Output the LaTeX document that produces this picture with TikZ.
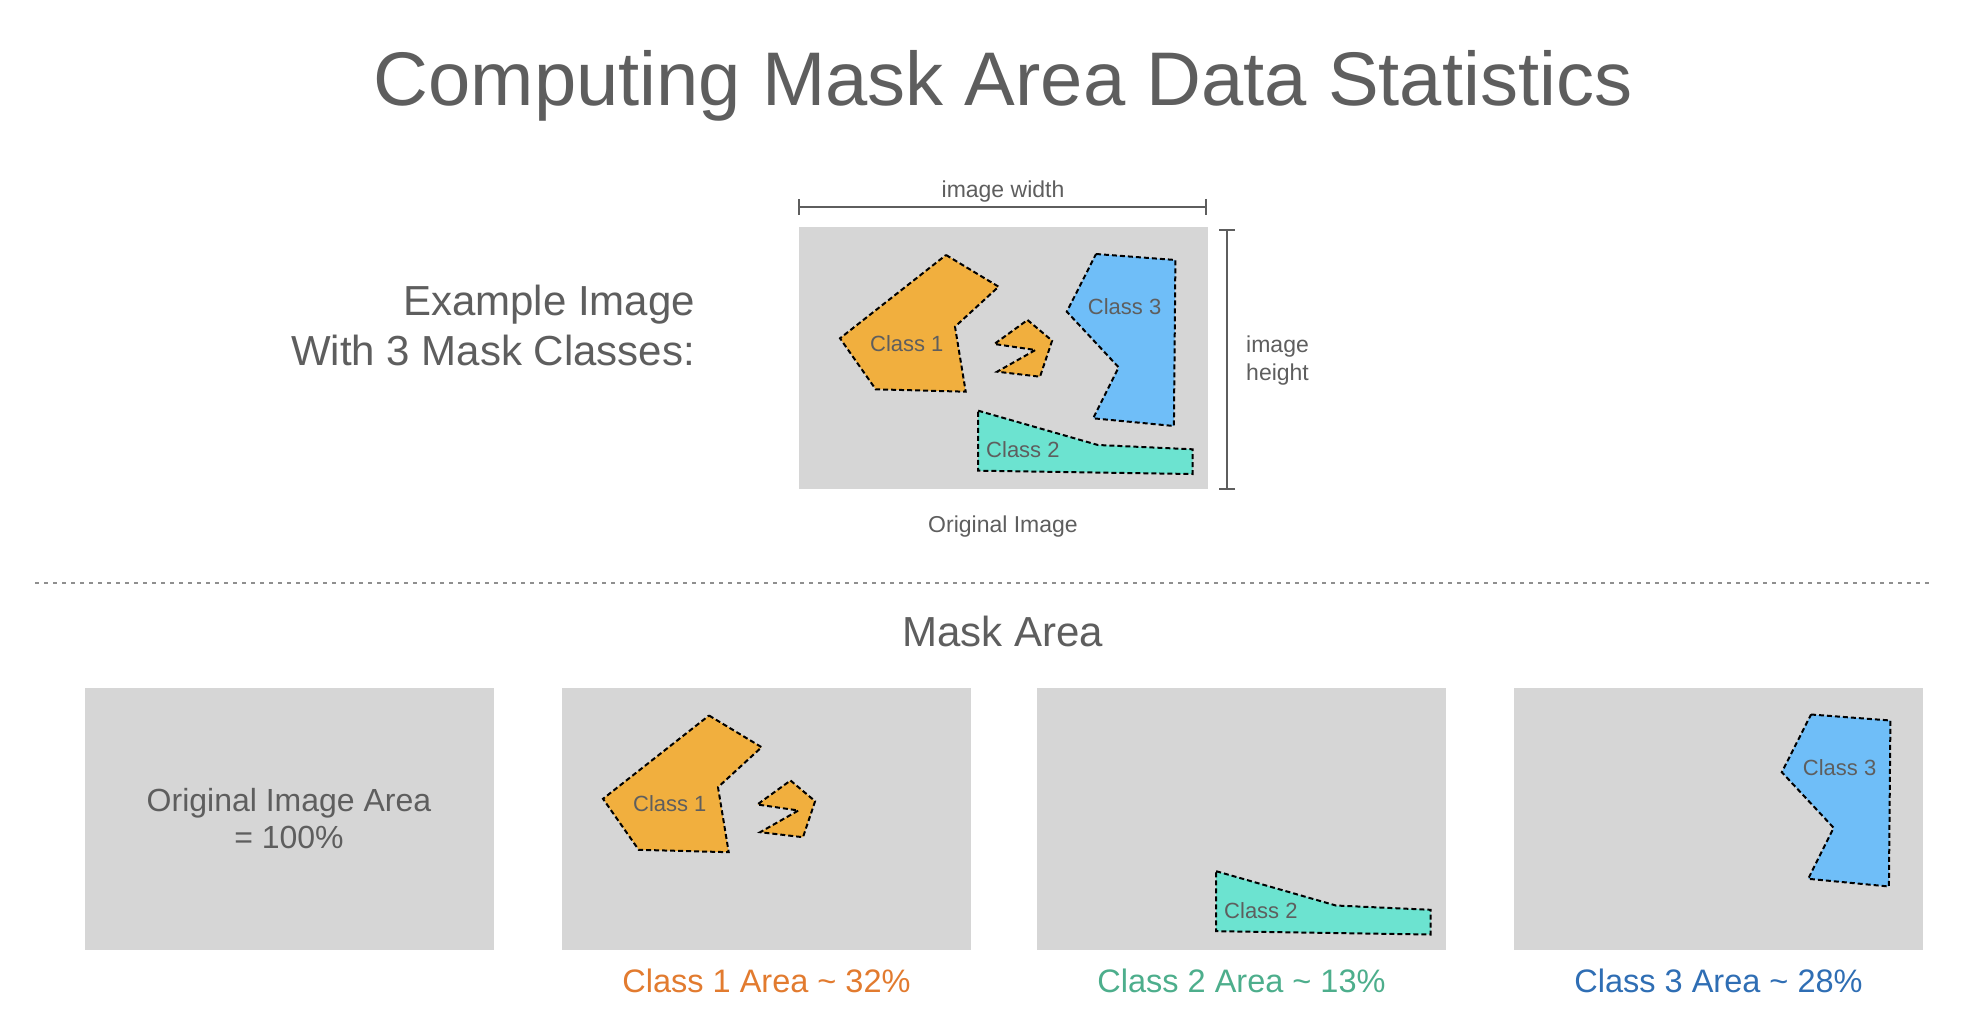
\documentclass[tikz,border=0pt]{standalone}
\usepackage{fontspec}
\setmainfont{Liberation Sans}
\usetikzlibrary{arrows.meta}
\definecolor{txt}{HTML}{5E5E5E}
\definecolor{bgimg}{HTML}{D6D6D6}
\definecolor{cAfill}{HTML}{F1AF3E}
\definecolor{cBfill}{HTML}{6CE3D0}
\definecolor{cCfill}{HTML}{6FBEF8}
\definecolor{cAtxt}{HTML}{E27B2F}
\definecolor{cBtxt}{HTML}{4DAE8C}
\definecolor{cCtxt}{HTML}{2F6EB4}
\definecolor{sepgray}{HTML}{8F8F8F}
\newcommand\fs[1]{\fontsize{#1}{#1}\selectfont}
\newcommand\shapeA[1]{%
  \draw[maskline, fill=cAfill] (147,28) -- (199.6,59.7) -- (156,99.7) -- (166.7,164.7) -- (76.7,162.3) -- (41,111.3) -- cycle;
  \draw[maskline, fill=cAfill] (228.5,93) -- (253.1,113.7) -- (241,149.7) -- (198.1,144.7) -- (236.4,123) -- (195.3,117) -- cycle;
  \node[masklabel] (#1) at (107.8,116.3) {Class 1};}
\newcommand\shapeB[1]{%
  \draw[maskline, fill=cBfill] (179.2,183.7) -- (298.9,218) -- (393.5,222.3) -- (393.5,247) -- (179.2,243.7) -- cycle;
  \node[masklabel] (#1) at (223.9,223) {Class 2};}
\newcommand\shapeC[1]{%
  \draw[maskline, fill=cCfill] (297,27) -- (376.4,33) -- (374.9,199) -- (294.2,191.3) -- (319.6,140.3) -- (267.8,84.7) -- cycle;
  \node[masklabel] (#1) at (325.6,79.7) {Class 3};}
\begin{document}
\begin{tikzpicture}[x=1pt,y=-1pt,
  imgbox/.style={fill=bgimg, draw=none, minimum width=409pt, minimum height=262pt, inner sep=0pt, outer sep=0pt, anchor=north west},
  maskline/.style={draw=black, line width=2pt, dash pattern=on 5pt off 3pt, line join=miter},
  masklabel/.style={text=txt, font=\fs{22}, inner sep=0pt},
  lbl/.style={text=txt, inner sep=0pt},
  dimline/.style={draw=txt, line width=2.2pt, {Bar[width=16pt,line width=2.2pt]}-{Bar[width=16pt,line width=2.2pt]}, shorten <=-1.1pt, shorten >=-1.1pt},
  arealbl/.style={font=\fs{32.5}, inner sep=0pt, anchor=base}]
\useasboundingbox[fill=white] (0,0) rectangle (1980,1016);

% title
\node[lbl, font=\fs{76}, anchor=base] (title) at (1003,106) {Computing Mask Area Data Statistics};

% example caption
\node[lbl, font=\fs{42}, anchor=base east] (ex1) at (695,315) {Example Image};
\node[lbl, font=\fs{42}, anchor=base east] (ex2) at (695,365.5) {With 3 Mask Classes:};

% original image
\node[imgbox] (top) at (799,227) {};
\begin{scope}[shift={(top.north west)}]
  \shapeA{topA}
  \shapeB{topB}
  \shapeC{topC}
\end{scope}

% dimensions
\coordinate (wl) at (799,207);
\coordinate (wr) at (1206,207);
\draw[dimline] (wl) -- (wr);
\node[lbl, font=\fs{23}, anchor=base] (wlab) at (1003,198) {image width};
\coordinate (ht) at (1227,230);
\coordinate (hb) at (1227,489);
\draw[dimline] (ht) -- (hb);
\node[lbl, font=\fs{23}, anchor=base west] (hlab1) at (1246,352) {image};
\node[lbl, font=\fs{23}, anchor=base west] (hlab2) at (1246,380) {height};
\node[lbl, font=\fs{23}, anchor=base] (origlab) at (1003,532) {Original Image};

% separator
\coordinate (sepl) at (35,583);
\coordinate (sepr) at (1932,583);
\draw[sepgray, line width=1.6pt, dash pattern=on 4pt off 5pt] (sepl) -- (sepr);

\node[lbl, font=\fs{42}, anchor=base] (maskarea) at (1003,646.5) {Mask Area};

% bottom panels
\node[imgbox] (p1) at (84.5,687.5) {};
\node[imgbox] (p2) at (562,687.5) {};
\node[imgbox] (p3) at (1037,687.5) {};
\node[imgbox] (p4) at (1514,687.5) {};

\node[lbl, font=\fs{32}, anchor=base] (p1a) at ([yshift=7pt]p1.center) {Original Image Area};
\node[lbl, font=\fs{32}, anchor=base] (p1b) at ([yshift=-29.5pt]p1.center) {= 100\%};

\begin{scope}[shift={(p2.north west)}]
  \shapeA{p2A}
\end{scope}
\begin{scope}[shift={(p3.north west)}]
  \shapeB{p3B}
\end{scope}
\begin{scope}[shift={(p4.north west)}]
  \shapeC{p4C}
\end{scope}

\node[arealbl, text=cAtxt] (l2) at (p2.south |- 0,992.5) {Class 1 Area \textasciitilde{} 32\%};
\node[arealbl, text=cBtxt] (l3) at (p3.south |- 0,992.5) {Class 2 Area \textasciitilde{} 13\%};
\node[arealbl, text=cCtxt] (l4) at (p4.south |- 0,992.5) {Class 3 Area \textasciitilde{} 28\%};
\end{tikzpicture}
\end{document}
